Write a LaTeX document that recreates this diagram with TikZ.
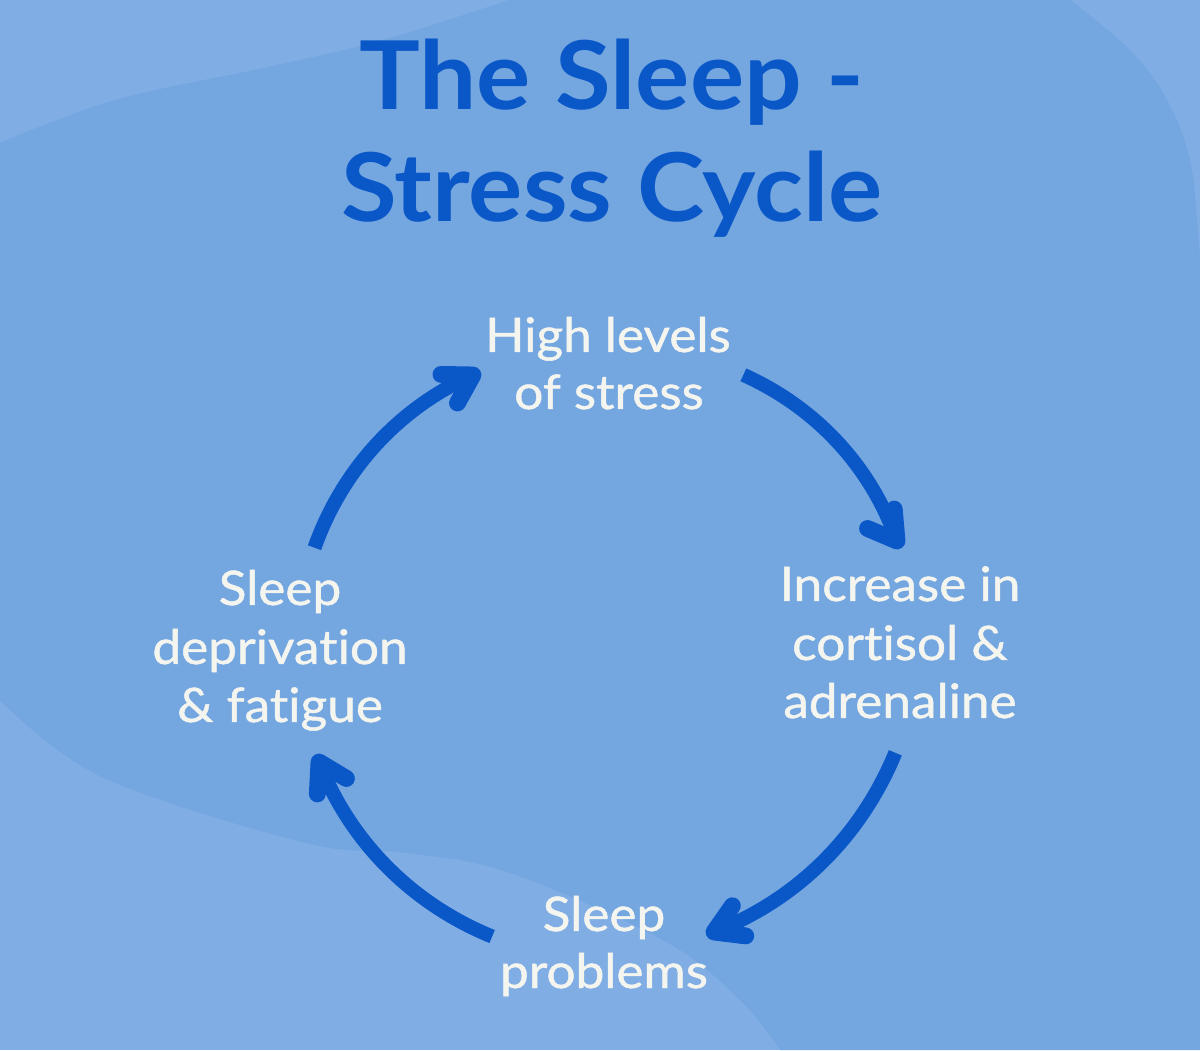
\documentclass[tikz,border=0pt]{standalone}
\usepackage{fontspec}
\setmainfont{Lato}
\newfontfamily\titlefont{Lato}[FakeStretch=1.07,Ligatures=NoCommon]
\newfontfamily\labelfont{Lato}[FakeStretch=1.08,FakeBold=1,Ligatures=NoCommon]
\definecolor{bglight}{HTML}{80ADE4}
\definecolor{bgdark}{HTML}{74A6E0}
\definecolor{arrowblue}{HTML}{0A57C8}
\definecolor{labelwhite}{HTML}{F5F5F0}
\tikzset{
  titleline/.style={font=\titlefont\fontsize{67.5}{80}\selectfont\bfseries, text=arrowblue, anchor=base, inner sep=0pt},
  labelline/.style={font=\labelfont\fontsize{33.8}{41}\selectfont, text=labelwhite, anchor=base, inner sep=0pt},
  cyclearrow/.style={draw=arrowblue, line width=10pt, line cap=butt, shorten >=2pt, looseness=0.9},
  headstroke/.style={draw=arrowblue, line width=12pt, line cap=round, line join=round}
}
\begin{document}
\begin{tikzpicture}[x=0.025cm,y=0.025cm]
% background
\fill[bglight] (0,0) rectangle (1200,1050);
\fill[bgdark]
  plot[smooth, tension=0.6] coordinates {(509,1050) (383,1010) (268,983) (115,950) (0,907)}
  -- plot[smooth, tension=0.6] coordinates {(0,350) (102,273) (306,207) (408,197) (510,177) (663,110) (740,50) (780,0)}
  -- (1200,0)
  -- plot[smooth, tension=0.6] coordinates {(1200,790) (1198,817) (1190,890) (1167,950) (1130,1000) (1070,1050)}
  -- cycle;
\useasboundingbox (0,0) rectangle (1200,1050);

% title
\node[titleline] (title1) at (612,940) {The Sleep -};
\node[titleline] (title2) at (612,828) {Stress Cycle};

% labels
\node[labelline] (top1) at (608,698) {High levels};
\node[labelline] (top2) at (609,641) {of stress};

\node[labelline] (right1) at (900,449) {Increase in};
\node[labelline] (right2) at (900,390) {cortisol \&};
\node[labelline] (right3) at (900,332) {adrenaline};

\node[labelline] (bot1) at (604,119) {Sleep};
\node[labelline] (bot2) at (604,62) {problems};

\node[labelline] (left1) at (280,445) {Sleep};
\node[labelline] (left2) at (280,386) {deprivation};
\node[labelline] (left3) at (280,328) {\& fatigue};

% cycle arrows
\coordinate (c) at (605,400);
\path (c) ++(160.6:308) coordinate (a1s);
\coordinate (a1e) at (473,675);
\path (c) ++(63.3:308) coordinate (a2s);
\coordinate (a2e) at (897,509);
\path (c) ++(-19.5:308) coordinate (a3s);
\coordinate (a3e) at (714,118);
\path (c) ++(-111.5:308) coordinate (a4s);
\coordinate (a4e) at (319,288);

\draw[cyclearrow] (a1s) to[bend left=23] (a1e);
\draw[cyclearrow] (a2s) to[bend left=23] (a2e);
\draw[cyclearrow] (a3s) to[bend left=23] (a3e);
\draw[cyclearrow] (a4s) to[bend left=23] (a4e);

% arrow heads (thick chevrons)
\draw[headstroke] ([shift={(179:32)}]a1e) -- (a1e) -- ([shift={(241:32)}]a1e);
\draw[headstroke] ([shift={(95:32)}]a2e) -- (a2e) -- ([shift={(157:32)}]a2e);
\draw[headstroke] ([shift={(-7:32)}]a3e) -- (a3e) -- ([shift={(55:32)}]a3e);
\draw[headstroke] ([shift={(267:32)}]a4e) -- (a4e) -- ([shift={(329:32)}]a4e);
\end{tikzpicture}
\end{document}
